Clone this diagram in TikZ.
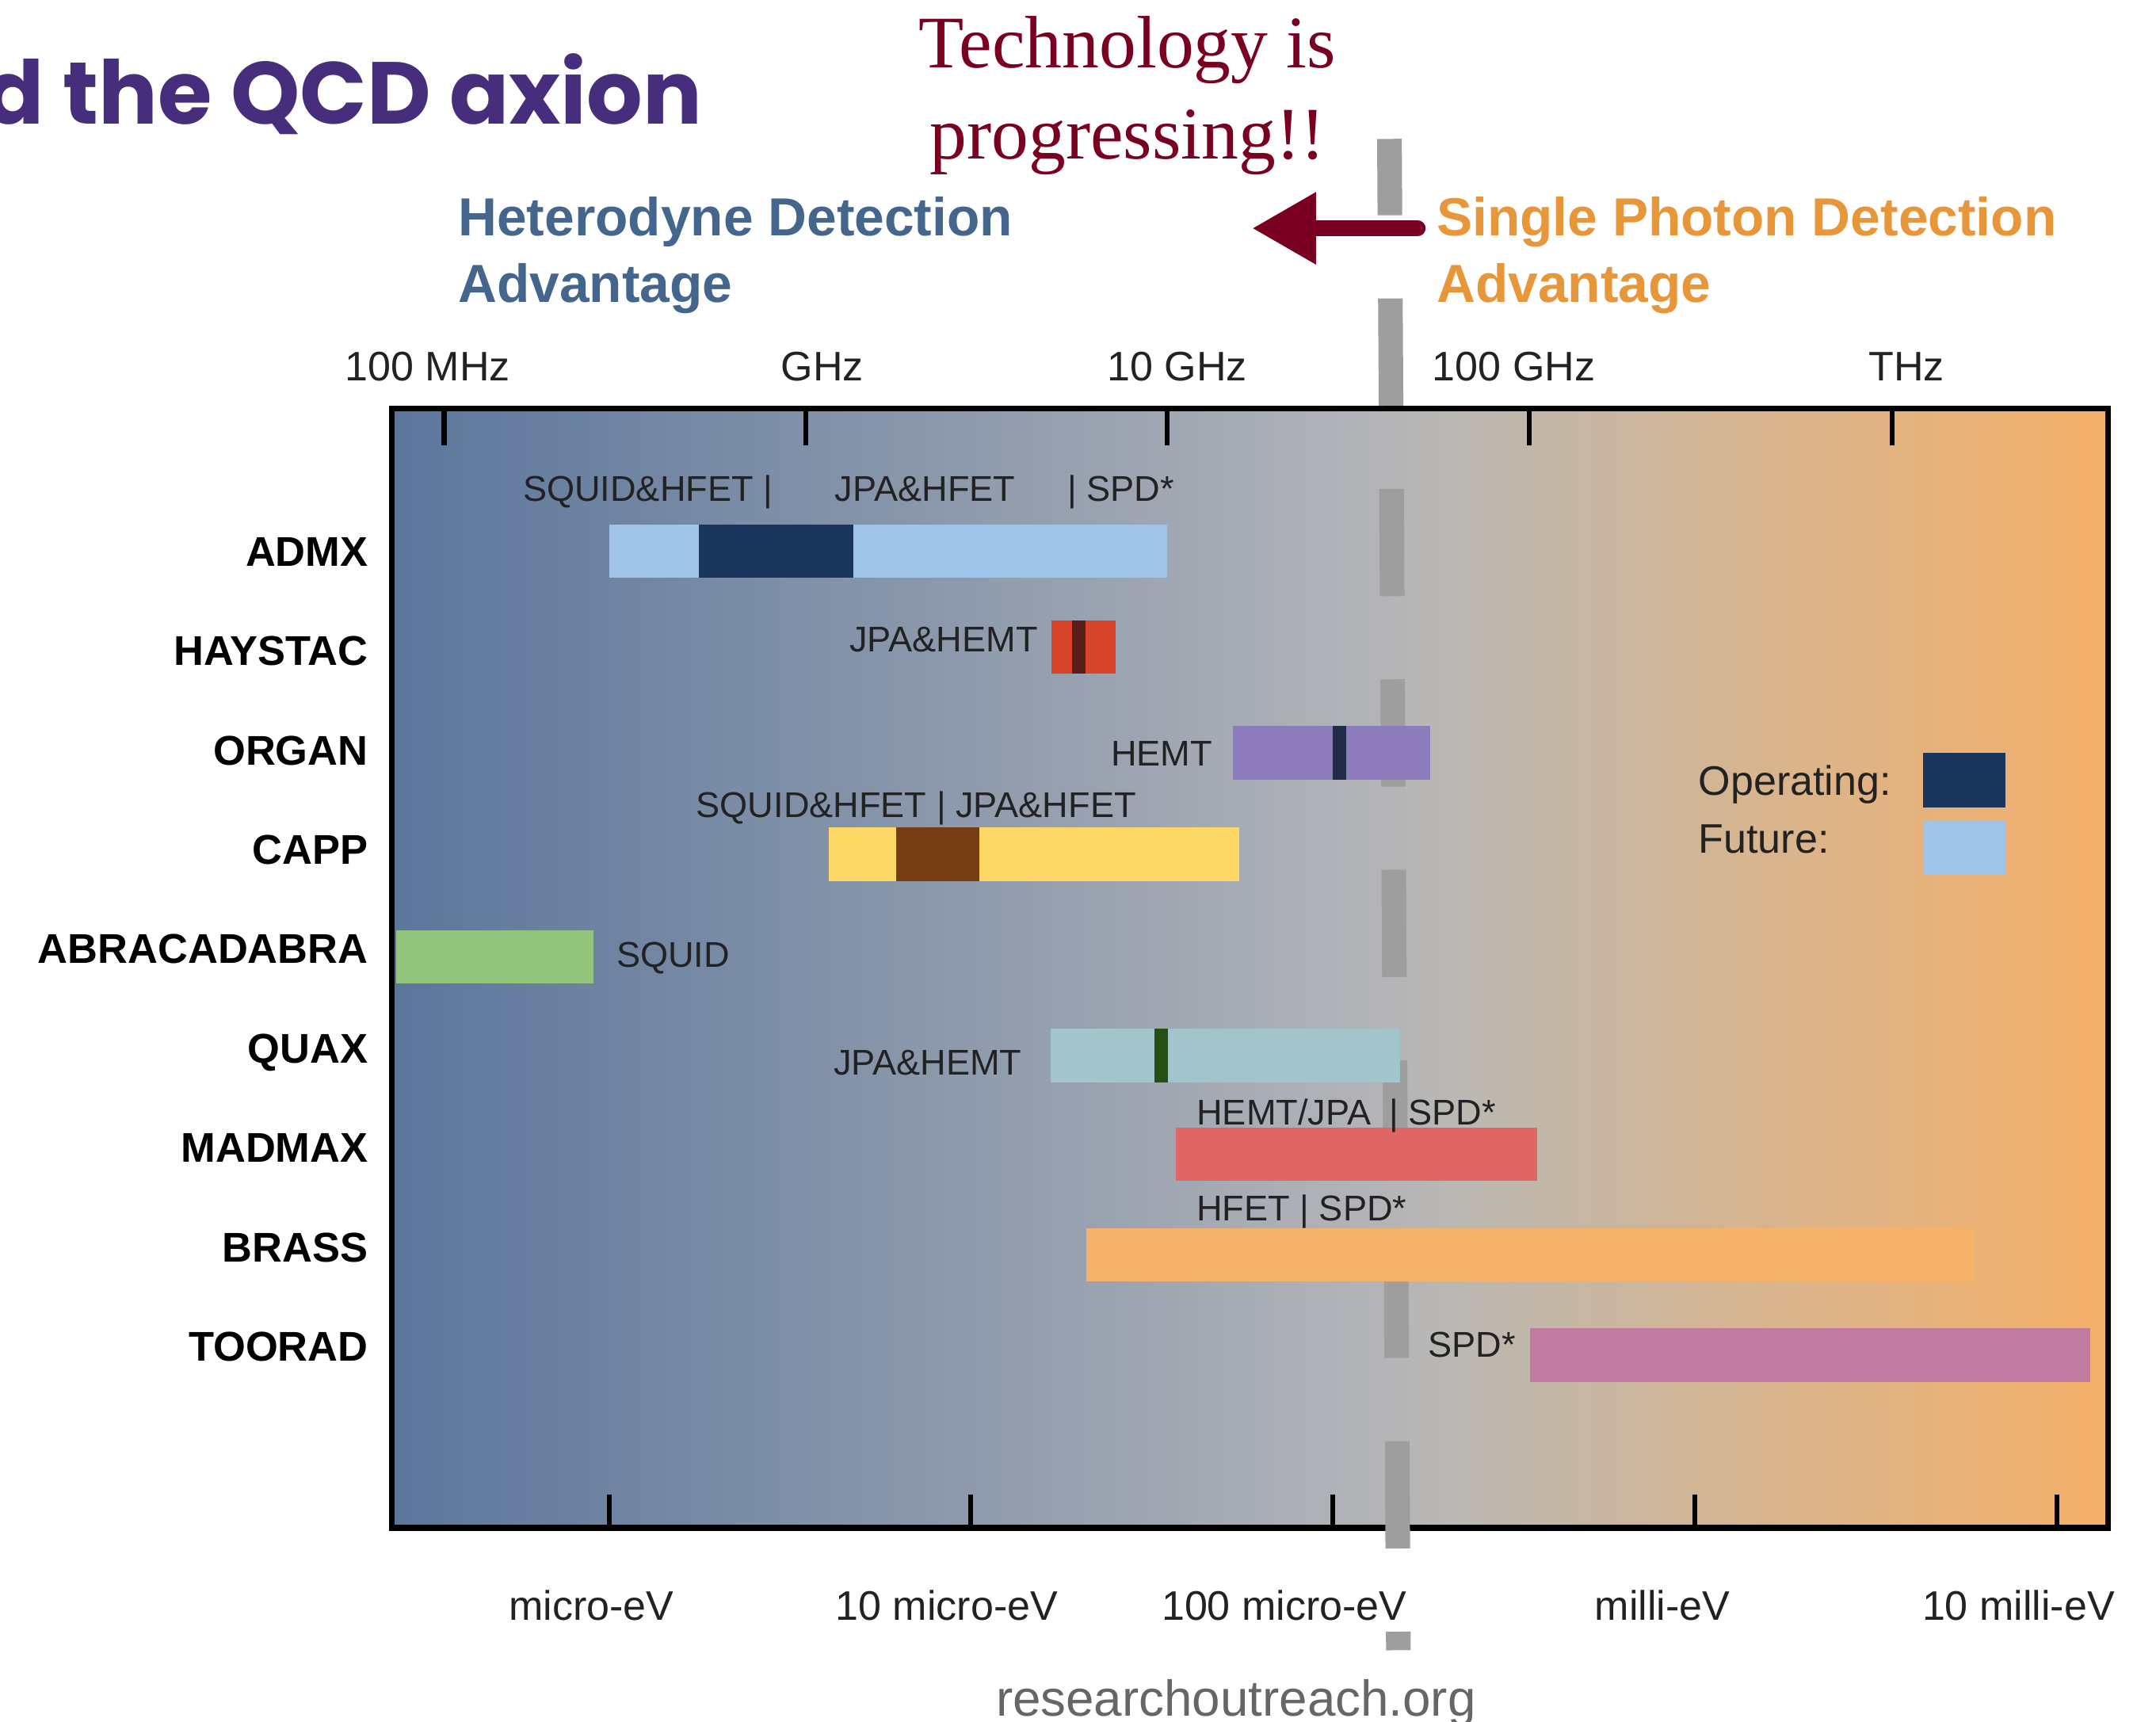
\documentclass[tikz,border=0pt]{standalone}
\usepackage{fontspec}
\setmainfont{Liberation Sans}
\newfontfamily\serifface{Liberation Serif}
\newfontfamily\titleface{Poppins}
\usetikzlibrary{arrows.meta}
\definecolor{cTitle}{HTML}{472E7D}
\definecolor{cHet}{HTML}{45668C}
\definecolor{cSPD}{HTML}{E8963A}
\definecolor{cRed}{HTML}{7A0021}
\definecolor{cbA}{HTML}{5B769C}
\definecolor{cbG}{HTML}{B3B4B8}
\definecolor{cbG2}{HTML}{BBB8B3}
\definecolor{cbT}{HTML}{D4B593}
\definecolor{cbO}{HTML}{F5B068}
\definecolor{cDash}{HTML}{9E9E9E}
\definecolor{cFut}{HTML}{A0C4E8}
\definecolor{cOp}{HTML}{1B365D}
\definecolor{cHay}{HTML}{D6452A}
\definecolor{cHayD}{HTML}{55201A}
\definecolor{cOrg}{HTML}{8D7CBB}
\definecolor{cOrgD}{HTML}{1F2B48}
\definecolor{cCapp}{HTML}{FDD866}
\definecolor{cCappD}{HTML}{763C12}
\definecolor{cAbra}{HTML}{93C47D}
\definecolor{cQuax}{HTML}{A2C4CB}
\definecolor{cQuaxD}{HTML}{274E13}
\definecolor{cMad}{HTML}{E06666}
\definecolor{cBrass}{HTML}{F6B26B}
\definecolor{cToo}{HTML}{C27BA0}
\definecolor{cTxt}{HTML}{222222}
\pgfdeclarehorizontalshading{bgsh}{100bp}{color(0bp)=(cbA); color(25bp)=(cbA); color(53.65bp)=(cbG); color(56bp)=(cbG2); color(63.7bp)=(cbT); color(75bp)=(cbO); color(100bp)=(cbO)}
\begin{document}
\begin{tikzpicture}[x=0.02cm,y=-0.02cm,
  rowlab/.style={font=\fontsize{17.2pt}{19pt}\selectfont\bfseries, anchor=base east, inner sep=0pt, text=black},
  axlab/.style={font=\fontsize{17.07pt}{20pt}\selectfont, anchor=base, inner sep=0pt, text=cTxt},
  inlab/.style={font=\fontsize{14.8pt}{17pt}\selectfont, anchor=base west, inner sep=0pt, text=cTxt},
  inlabr/.style={inlab, anchor=base east},
  leglab/.style={font=\fontsize{17.07pt}{20pt}\selectfont, anchor=base west, inner sep=0pt, text=cTxt},
  headlab/.style={font=\fontsize{22.2pt}{26pt}\selectfont\bfseries, anchor=base west, inner sep=0pt},
  techlab/.style={font=\serifface\fontsize{30.7pt}{36pt}\selectfont, anchor=base, inner sep=0pt, text=cRed},
  tick/.style={line width=2pt, black},
  dashseg/.style={line width=10.2pt, cDash},
]
\useasboundingbox (0,0) rectangle (1568,1252);
\clip (0,0) rectangle (1568,1252);

% title
\node[font=\titleface\bfseries\fontsize{36.4pt}{40pt}\selectfont, text=cTitle, anchor=base east, inner sep=0pt] (title) at (511,90) {d the QCD axion};

% technology text
\node[techlab] (tech1) at (820,49) {Technology is};
\node[techlab] (tech2) at (820,115.3) {progressing!!};

% headers
\node[headlab, text=cHet] (het1) at (333,171.5) {Heterodyne Detection};
\node[headlab, text=cHet] (het2) at (333,220) {Advantage};
\node[headlab, text=cSPD] (spd1) at (1044.5,171.5) {Single Photon Detection};
\node[headlab, text=cSPD] (spd2) at (1044.5,220) {Advantage};

% background
\shade[shading=bgsh] (285,297) rectangle (1533,1111);

% frame and ticks
\draw[line width=2.4pt] (285,297) rectangle (1533,1111);
\foreach \x in {323,586,849,1112,1376} { \draw[tick] (\x,297) -- (\x,324); }
\foreach \x in {443,706,969.5,1232.5,1496} { \draw[tick] (\x,1087) -- (\x,1111); }

% dashed separator
\foreach \a/\b in {101/156.5,217/295,355.5/433.5,494/572,632.5/710.5,771/849,909.5/987.5,1048/1126,1186.5/1200} {
  \draw[dashseg] ({1010.5+(\a-101)*6.5/1099},\a) -- ({1010.5+(\b-101)*6.5/1099},\b);
}

% arrow
\coordinate (arrT) at (1031,166);
\coordinate (arrH) at (910.5,166);
\draw[cRed, line width=6.6pt, line cap=round, -{Triangle[length=26.5pt, width=28pt]}] (arrT) -- (arrH);

% axis labels
\node[axlab] (f1) at (311,276.6) {100 MHz};
\node[axlab] (f2) at (598,276.6) {GHz};
\node[axlab] (f3) at (856,276.6) {10 GHz};
\node[axlab] (f4) at (1101,276.6) {100 GHz};
\node[axlab] (f5) at (1386.5,276.6) {THz};
\node[axlab] (e1) at (430,1178) {micro-eV};
\node[axlab] (e2) at (688.5,1178) {10 micro-eV};
\node[axlab] (e3) at (934,1178) {100 micro-eV};
\node[axlab] (e4) at (1209,1178) {milli-eV};
\node[axlab] (e5) at (1468,1178) {10 milli-eV};

% row labels
\node[rowlab] (rADMX) at (268,411.5) {ADMX};
\node[rowlab] (rHAY) at (268,483.8) {HAYSTAC};
\node[rowlab] (rORG) at (268,556.1) {ORGAN};
\node[rowlab] (rCAPP) at (268,628.4) {CAPP};
\node[rowlab] (rABRA) at (268,700.7) {ABRACADABRA};
\node[rowlab] (rQUAX) at (268,773) {QUAX};
\node[rowlab] (rMAD) at (268,845.3) {MADMAX};
\node[rowlab] (rBRASS) at (268,917.6) {BRASS};
\node[rowlab] (rTOO) at (268,989.9) {TOORAD};

% bars
\fill[cFut] (443,381.5) rectangle (849,420);
\fill[cOp] (508.5,381.5) rectangle (620.5,420);
\fill[cHay] (764.5,451) rectangle (811.5,490);
\fill[cHayD] (779.5,451) rectangle (789.5,490);
\fill[cOrg] (896.5,528) rectangle (1040,567);
\fill[cOrgD] (969.5,528) rectangle (979,567);
\fill[cCapp] (603,601.5) rectangle (901.5,641);
\fill[cCappD] (651.5,601.5) rectangle (712.5,641);
\fill[cAbra] (288,676.5) rectangle (431.5,715);
\fill[cQuax] (764,748) rectangle (1018,787);
\fill[cQuaxD] (839.5,748) rectangle (849.5,787);
\fill[cMad] (855,820) rectangle (1118,858.5);
\fill[cBrass] (790,893) rectangle (1436,932);
\fill[cToo] (1113,966) rectangle (1520,1005);

% bar labels
\node[inlab] (lA1) at (380,364.6) {SQUID\&HFET |};
\node[inlab] (lA2) at (607,364.6) {JPA\&HFET};
\node[inlab] (lA3) at (776,364.6) {| SPD*};
\node[inlabr] (lH) at (755,474) {JPA\&HEMT};
\node[inlabr] (lO) at (882,557) {HEMT};
\node[inlab] (lC) at (506,594.3) {SQUID\&HFET | JPA\&HFET};
\node[inlab] (lAB) at (448,703.4) {SQUID};
\node[inlabr] (lQ) at (743.4,781.5) {JPA\&HEMT};
\node[inlab] (lM1) at (870,818) {HEMT/JPA};
\node[inlab] (lM2) at (1010,818) {| SPD*};
\node[inlab] (lB) at (870,887.5) {HFET | SPD*};
\node[inlab] (lT) at (1038.5,986.6) {SPD*};

% legend
\node[leglab] (legOp) at (1235,578) {Operating:};
\node[leglab] (legFu) at (1235,620.5) {Future:};
\fill[cOp] (1398.5,547.5) rectangle (1458.5,587);
\fill[cFut] (1398.5,596.5) rectangle (1458.5,636);

% source
\node[font=\fontsize{20.9pt}{24pt}\selectfont, text=black!60, anchor=base west, inner sep=0pt] (src) at (724,1248) {researchoutreach.org};
\end{tikzpicture}
\end{document}
